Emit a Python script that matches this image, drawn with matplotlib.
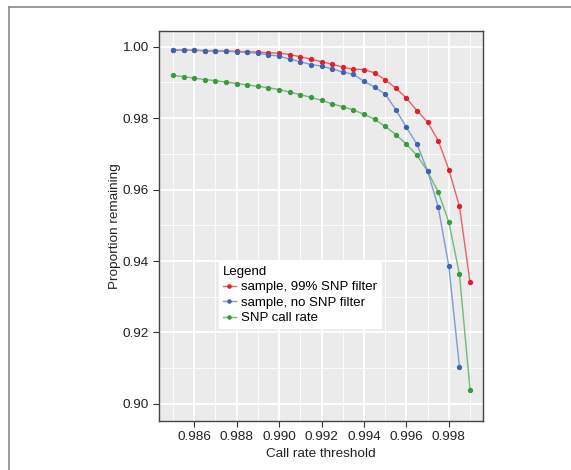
import numpy as np
import matplotlib
matplotlib.use("Agg")
import matplotlib.pyplot as plt
from matplotlib.lines import Line2D

plt.rcParams['font.family'] = ['Liberation Sans', 'DejaVu Sans']

# пороги call rate
thresholds = [0.985 + 0.0005 * i for i in range(29)]

# sample, 99% SNP filter
red_vals = [0.9990, 0.9990, 0.9990, 0.9989, 0.9988, 0.9988, 0.9987, 0.9986, 0.9985,
            0.9983, 0.9982, 0.9978, 0.9972, 0.9965, 0.9958, 0.9951, 0.9943, 0.9937,
            0.9936, 0.9927, 0.9907, 0.9884, 0.9856, 0.9821, 0.9789, 0.9737, 0.9656,
            0.9553, 0.9340]
# sample, no SNP filter (последняя точка 0.9985)
blue_vals = [0.9991, 0.9991, 0.9990, 0.9989, 0.9988, 0.9987, 0.9986, 0.9984, 0.9982,
             0.9977, 0.9974, 0.9965, 0.9958, 0.9950, 0.9946, 0.9938, 0.9929, 0.9923,
             0.9903, 0.9887, 0.9867, 0.9824, 0.9774, 0.9727, 0.9652, 0.9551, 0.9385,
             0.9104]
# SNP call rate
green_vals = [0.9920, 0.9916, 0.9912, 0.9908, 0.9905, 0.9901, 0.9897, 0.9893, 0.9889,
              0.9885, 0.9880, 0.9873, 0.9866, 0.9858, 0.9850, 0.9840, 0.9832, 0.9823,
              0.9811, 0.9797, 0.9777, 0.9754, 0.9727, 0.9696, 0.9651, 0.9593, 0.9509,
              0.9363, 0.9039]

series_names = ["sample, 99% SNP filter", "sample, no SNP filter", "SNP call rate"]
colors = ["#e0202a", "#3f63b0", "#3a9a40"]
line_colors = ["#ee6068", "#7f9bd0", "#74b978"]

xticks = [0.986, 0.988, 0.990, 0.992, 0.994, 0.996, 0.998]
yticks = [0.90, 0.92, 0.94, 0.96, 0.98, 1.00]

fig = plt.figure(figsize=(5.71, 4.70), dpi=100)

# рамка вокруг рисунка
fig.add_artist(Line2D([9 / 571, 1.0], [1 - 7 / 470, 1 - 7 / 470], color="#8a8a8a", lw=1.2))
fig.add_artist(Line2D([9 / 571, 9 / 571], [0.0, 1 - 7 / 470], color="#8a8a8a", lw=1.2))

ax = fig.add_axes([159 / 571, 49 / 470, 324 / 571, 390 / 470])
ax.set_facecolor("#ebebeb")

ax.set_xlim(0.98434, 0.99961)
ax.set_ylim(0.8952, 1.0044)
ax.set_xticks(xticks)
ax.set_xticklabels([f"{t:.3f}" for t in xticks])
ax.set_yticks(yticks)
ax.set_yticklabels([f"{t:.2f}" for t in yticks])
ax.set_xticks([0.985, 0.987, 0.989, 0.991, 0.993, 0.995, 0.997, 0.999], minor=True)
ax.set_yticks([0.91, 0.93, 0.95, 0.97, 0.99], minor=True)
ax.grid(which="major", color="white", lw=1.3)
ax.grid(which="minor", color="white", lw=0.6)
ax.set_axisbelow(True)
ax.tick_params(which="minor", length=0)
ax.tick_params(which="major", length=4, width=0.8, color="#333333",
               labelsize=9.7, labelcolor="#222222")

for s in ax.spines.values():
    s.set_color("#444444")
    s.set_linewidth(1.0)

all_vals = [red_vals, blue_vals, green_vals]
order = [2, 0, 1]
for i in order:
    vals = all_vals[i]
    ax.plot(thresholds[:len(vals)], vals, color=line_colors[i], lw=1.0, zorder=3)
    ax.plot(thresholds[:len(vals)], vals, ls="none", marker="o", ms=2.8,
            color=colors[i], zorder=4)

handles = [Line2D([], [], color=line_colors[i], lw=1.0, marker="o", ms=2.3,
                  markerfacecolor=colors[i], markeredgecolor=colors[i]) for i in range(3)]
leg = ax.legend(handles, series_names, title="Legend", loc="upper left",
                bbox_to_anchor=(0.185, 0.408), fontsize=9.5, title_fontsize=9.5,
                frameon=True, fancybox=False, framealpha=1, edgecolor="white",
                handlelength=1.0, handletextpad=0.4, labelspacing=0.25,
                borderpad=0.3, borderaxespad=0)
leg._legend_box.align = "left"

ax.set_xlabel("Call rate threshold", fontsize=9.7, color="#222222", labelpad=3)
ax.set_ylabel("Proportion remaining", fontsize=9.7, color="#222222", labelpad=1)

fig.savefig("out.png", dpi=100)
